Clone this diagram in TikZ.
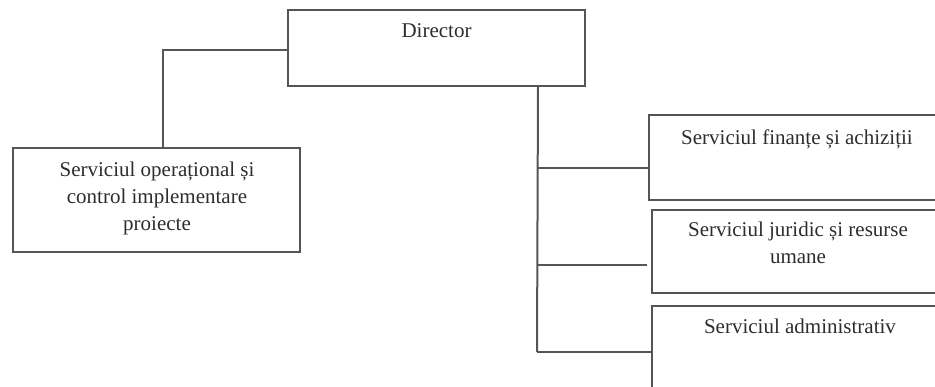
\documentclass[tikz,border=0pt]{standalone}
\usepackage{fontspec}
\setmainfont{Liberation Serif}
\begin{document}
\begin{tikzpicture}[x=1pt,y=-1pt,
  box/.style={draw={rgb,255:red,85;green,85;blue,85}, line width=2pt, rectangle, inner sep=0pt},
  txt/.style={text={rgb,255:red,45;green,45;blue,45}, font=\fontsize{21}{27}\selectfont, align=center, inner sep=0pt},
  conn/.style={draw={rgb,255:red,85;green,85;blue,85}, line width=2pt}]
\useasboundingbox (0,0) rectangle (935,387);
\clip (0,0) rectangle (935,387);
% boxes
\node[box, minimum width=297pt, minimum height=76pt] (dir) at (436.5,48) {};
\node[box, minimum width=287pt, minimum height=104pt] (op) at (156.5,200) {};
\node[box, minimum width=298pt, minimum height=85pt] (s1) at (798,157.5) {};
\node[box, minimum width=294pt, minimum height=83pt] (s2) at (799,251.5) {};
\node[box, minimum width=296pt, minimum height=92pt] (s3) at (800,352) {};
% texts
\node[txt] (dirT) at (436.5,31) {Director};
\node[txt] (opT) at (157,198.5) {Serviciul operațional și\\control implementare\\proiecte};
\node[txt] (s1T) at (797,139) {Serviciul finanțe și achiziții};
\node[txt] (s2T) at (798,243) {Serviciul juridic și resurse\\umane};
\node[txt] (s3T) at (800,326) {Serviciul administrativ};
% connectors
\coordinate (dw) at ([yshift=-2pt]dir.west);
\coordinate (opn) at ([xshift=6.5pt]op.north);
\draw[conn] (dw) -| (opn);
\coordinate (ts) at ([xshift=-48pt]dir.south east);
\coordinate (trunk) at (537,352);
\draw[conn] (ts) -- (trunk);
\coordinate (j1) at ([yshift=-10.5pt]s1.west);
\coordinate (j2) at ([yshift=-13.5pt]s2.west);
\draw[conn] (trunk |- j1) -- (j1);
\draw[conn] (trunk |- j2) -- ([xshift=-4pt]j2);
\draw[conn] (trunk) -- (s3.west);
\end{tikzpicture}
\end{document}
